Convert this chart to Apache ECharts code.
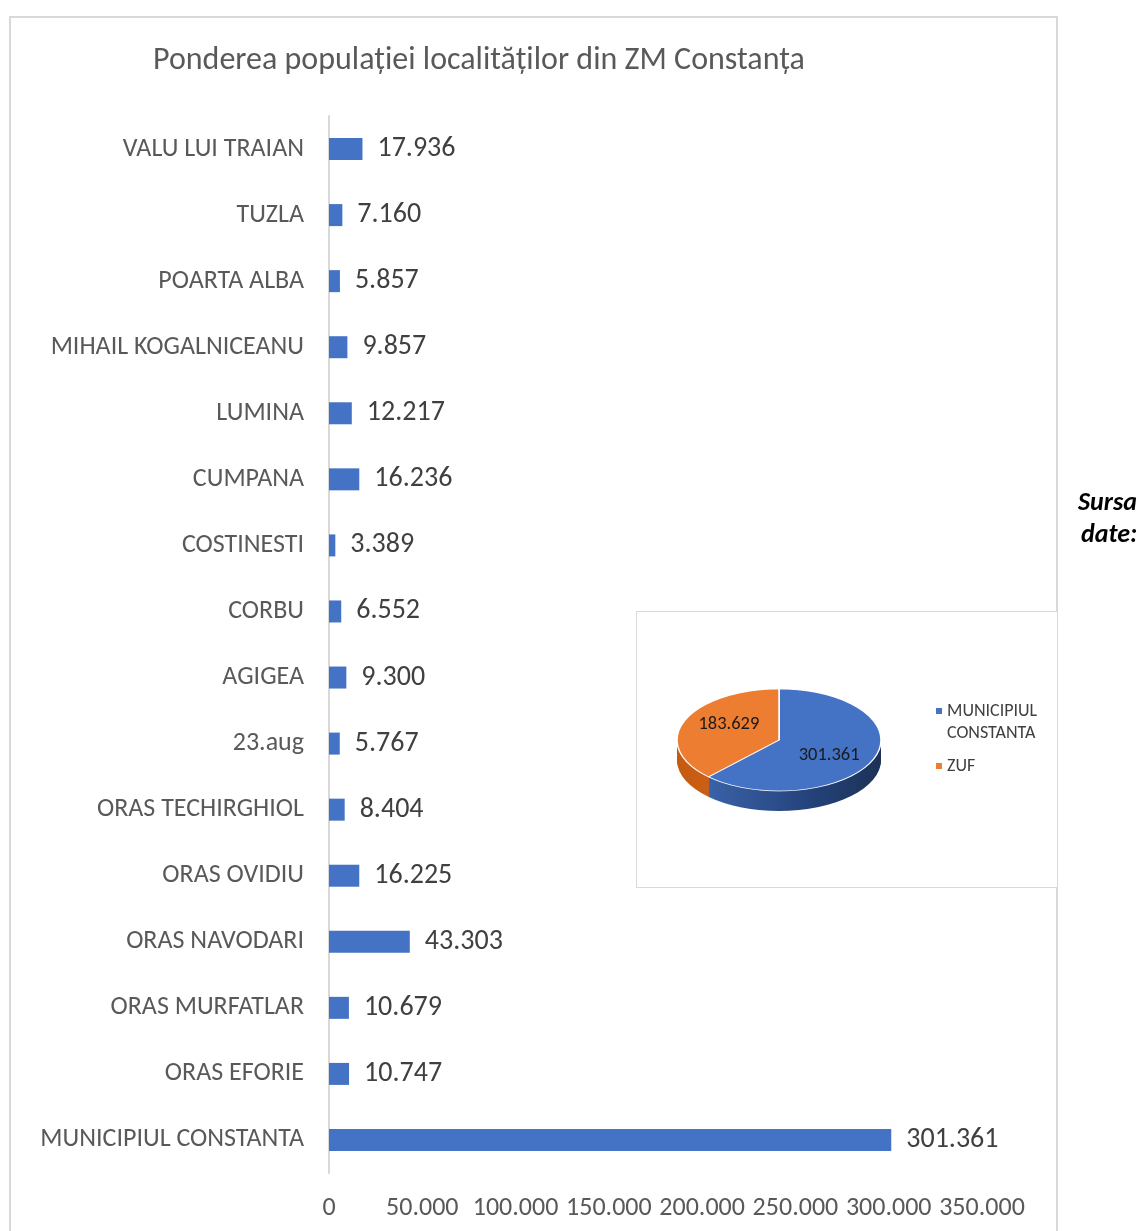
<!DOCTYPE html>
<html>
<head>
<meta charset="utf-8">
<script src="https://cdn.jsdelivr.net/npm/echarts/dist/echarts.min.js"></script>
<style>
body { margin: 0; background: #fff; }
#frame { position: absolute; left: 9px; top: 16px; width: 1045px; height: 1240px; border: 2px solid #d9d9d9; }
#main { position: absolute; left: 0; top: 0; width: 1139px; height: 1231px; }
#pieBox { position: absolute; left: 636px; top: 611px; width: 420px; height: 275px; border: 1px solid #d9d9d9; background: #fff; overflow: hidden; }
#pieShape { position: absolute; left: 0; top: 0; width: 420px; height: 275px; transform: scaleY(0.5); transform-origin: 142px 128px; }
#pieText { position: absolute; left: 0; top: 0; width: 420px; height: 275px; }
</style>
</head>
<body>
<div id="frame"></div>
<div id="main"></div>
<div id="pieBox">
    <div id="pieShape"></div>
    <div id="pieText"></div>
</div>
<script>
// localitati, de jos in sus (ordinea axei de categorii)
var localitati = ['MUNICIPIUL CONSTANTA', 'ORAS EFORIE', 'ORAS MURFATLAR', 'ORAS NAVODARI', 'ORAS OVIDIU',
    'ORAS TECHIRGHIOL', '23.aug', 'AGIGEA', 'CORBU', 'COSTINESTI', 'CUMPANA', 'LUMINA',
    'MIHAIL KOGALNICEANU', 'POARTA ALBA', 'TUZLA', 'VALU LUI TRAIAN'];
var populatie = [301361, 10747, 10679, 43303, 16225, 8404, 5767, 9300, 6552, 3389, 16236, 12217,
    9857, 5857, 7160, 17936];
var xTicks = [0, 50000, 100000, 150000, 200000, 250000, 300000, 350000];

var pieNames = ['MUNICIPIUL CONSTANTA', 'ZUF'];
var pieValues = [301361, 183629];

var font = 'Carlito, Lato, sans-serif';
var blue = '#4472C4';
var orange = '#ED7D31';

function fmt(v) {
    return String(v).replace(/\B(?=(\d{3})+(?!\d))/g, '.');
}

var myChart = echarts.init(document.getElementById('main'));
var option = {
    animation: false,
    backgroundColor: 'transparent',
    title: {
        text: 'Ponderea populației localităților din ZM Constanța',
        left: 148,
        top: 40,
        textStyle: { fontFamily: font, fontSize: 32, fontWeight: 'normal', color: '#595959' }
    },
    grid: { left: 329, right: 157, top: 116, bottom: 58 },
    xAxis: {
        type: 'value',
        min: xTicks[0],
        max: xTicks[xTicks.length - 1],
        interval: xTicks[1] - xTicks[0],
        splitLine: { show: false },
        axisLine: { show: false },
        axisTick: { show: false },
        axisLabel: {
            margin: 22,
            fontFamily: font, fontSize: 26, color: '#595959',
            formatter: function (v) { return fmt(v); }
        }
    },
    yAxis: {
        type: 'category',
        data: localitati,
        axisLine: { show: true, lineStyle: { color: '#d9d9d9', width: 2 } },
        axisTick: { show: false },
        axisLabel: { margin: 25, fontFamily: font, fontSize: 26, color: '#595959' }
    },
    series: [{
        type: 'bar',
        data: populatie,
        barWidth: 22,
        itemStyle: { color: blue },
        label: {
            show: true,
            position: 'right',
            distance: 15,
            fontFamily: font, fontSize: 28, color: '#404040',
            formatter: function (p) { return fmt(p.value); }
        }
    }],
    graphic: [
        { type: 'text', left: 1078, top: 490, style: { text: 'Sursa', font: 'italic bold 26px ' + font, fill: '#000' } },
        { type: 'text', left: 1081, top: 522, style: { text: 'date:', font: 'italic bold 26px ' + font, fill: '#000' } }
    ]
};
myChart.setOption(option);

// pie "3D": o copie turtita pe verticala cu straturi pentru grosime
var pieData = pieNames.map(function (n, i) { return { name: n, value: pieValues[i] }; });
var cx = 142, cy = 128, rad = 102;
var shapeSeries = [];
for (var k = 40; k > 0; k -= 2) {
    shapeSeries.push({
        type: 'pie', silent: true, center: [cx, cy + k], radius: rad,
        label: { show: false }, labelLine: { show: false },
        data: pieData,
        itemStyle: {
            color: function (p) {
                if (p.dataIndex === 0) {
                    return new echarts.graphic.LinearGradient(0, 0, 1, 0, [
                        { offset: 0, color: '#3a62a8' },
                        { offset: 0.6, color: '#24427a' },
                        { offset: 1, color: '#1c3257' }
                    ]);
                }
                return new echarts.graphic.LinearGradient(0, 0, 1, 0, [
                    { offset: 0, color: '#c55a11' },
                    { offset: 1, color: '#d86a20' }
                ]);
            }
        }
    });
}
shapeSeries.push({
    type: 'pie', silent: true, center: [cx, cy], radius: rad,
    label: { show: false }, labelLine: { show: false },
    data: pieData,
    itemStyle: {
        color: function (p) { return p.dataIndex === 0 ? blue : orange; },
        borderColor: '#fff', borderWidth: 1.5
    }
});
var pieShape = echarts.init(document.getElementById('pieShape'));
pieShape.setOption({ animation: false, series: shapeSeries });

// etichete si legenda, fara turtire
// iconita e un patrat in varful unei cutii inalte, ca sa stea langa primul rand
var iconTop = 'path://M0,0L6,0L6,6L0,6Z M0,28L0.01,28';
var iconMid = 'path://M0,0L0.01,0 M0,11L6,11L6,17L0,17Z M0,28L0.01,28';
var pieText = echarts.init(document.getElementById('pieText'));
pieText.setOption({
    animation: false,
    legend: {
        orient: 'vertical',
        left: 299,
        top: 88,
        padding: 0,
        itemWidth: 6,
        itemHeight: 28,
        itemGap: 8,
        textStyle: { fontFamily: font, fontSize: 18, color: '#404040', lineHeight: 22 },
        formatter: function (n) { return n.replace(' ', '\n'); },
        data: [
            { name: pieNames[0], icon: iconTop, itemStyle: { color: blue } },
            { name: pieNames[1], icon: iconMid, itemStyle: { color: orange } }
        ]
    },
    series: [{
        type: 'pie', silent: true, center: [cx, cy], radius: rad,
        data: pieData,
        itemStyle: { color: 'rgba(0,0,0,0)' },
        labelLine: { show: false },
        label: {
            show: true, position: 'inside',
            fontFamily: font, fontSize: 18.5, color: '#1a1a1a',
            formatter: function (p) { return fmt(p.value); }
        },
        labelLayout: function (p) {
            var r = p.labelRect;
            var mx = r.x + r.width / 2;
            var my = r.y + r.height / 2;
            return { x: mx, y: cy + (my - cy) * 0.78, align: 'center', verticalAlign: 'middle' };
        }
    }]
});
</script>
</body>
</html>
